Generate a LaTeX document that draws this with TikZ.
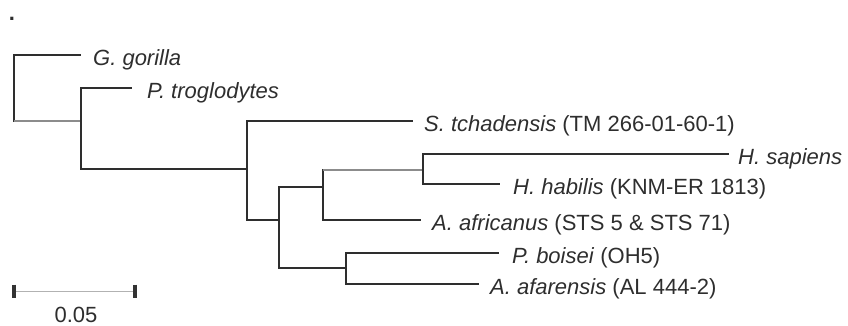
\documentclass[tikz,border=0pt]{standalone}
\usepackage{fontspec}
\setmainfont{Liberation Sans}
\begin{document}
\begin{tikzpicture}[x=1pt,y=-1pt,
  br/.style={line width=2.8pt,draw=black!82,line cap=rect},
  lightbr/.style={line width=1.4pt,draw=black!45},
  barline/.style={line width=1pt,draw=black!30},
  tick/.style={line width=3.2pt,draw=black!80},
  lab/.style={anchor=base west,inner sep=0pt,text=black!82,xshift=12pt,yshift=-10.5pt,
    font=\fontsize{22}{26}\selectfont},
  plain/.style={anchor=base,inner sep=0pt,text=black!82,font=\fontsize{22}{26}\selectfont}]
\useasboundingbox (0,0) rectangle (848,325);
% internal nodes
\coordinate (r) at (14,121);
\coordinate (n2) at (81,121);
\coordinate (n3) at (247,169);
\coordinate (n4) at (279,220);
\coordinate (n5) at (323,187);
\coordinate (n5t) at (323,170);
\coordinate (n6) at (423,170);
\coordinate (n7) at (346,268);
% tips
\coordinate (tg) at (80,55);
\coordinate (tp) at (131,88);
\coordinate (ts) at (412,121);
\coordinate (tsap) at (728,154);
\coordinate (thab) at (499,184);
\coordinate (tafr) at (420,220);
\coordinate (tboi) at (498,253);
\coordinate (tafa) at (478,284);
% branches
\draw[br] (tg) -| (r);
\draw[lightbr] (r) -- (n2);
\draw[br] (tp) -| (n2) |- (n3);
\draw[br] (ts) -| (n3) |- (n4);
\draw[br] (n5) -| (n4) |- (n7);
\draw[br] (n5t) -- (n5) |- (tafr);
\draw[lightbr] (n5t) -- (n6);
\draw[br] (tsap) -| (n6) |- (thab);
\draw[br] (tboi) -| (n7) |- (tafa);
% labels
\node[lab,xshift=1pt] (lg) at (tg) {\itshape G. gorilla};
\node[lab,xshift=4pt] (lp) at (tp) {\itshape P. troglodytes};
\node[lab] (ls) at (ts) {\textit{S. tchadensis} (TM 266-01-60-1)};
\node[lab,xshift=-2pt] (lsap) at (tsap) {\itshape H. sapiens};
\node[lab,xshift=2pt] (lhab) at (thab) {\textit{H. habilis} (KNM-ER 1813)};
\node[lab] (lafr) at (tafr) {\textit{A. africanus} (STS 5 \& STS 71)};
\node[lab,xshift=2pt] (lboi) at (tboi) {\textit{P. boisei} (OH5)};
\node[lab] (lafa) at (tafa) {\textit{A. afarensis} (AL 444-2)};
% scale bar
\coordinate (sb1) at (14,291);
\coordinate (sb2) at (135,291);
\draw[barline] (sb1) -- (sb2);
\draw[tick] ([yshift=6.5pt]sb1) -- ([yshift=-6.5pt]sb1);
\draw[tick] ([yshift=6.5pt]sb2) -- ([yshift=-6.5pt]sb2);
\node[plain] (sl) at (76,322) {0.05};
\node[plain,font=\fontsize{22}{26}\selectfont\bfseries] (dot) at (12,20) {.};
\end{tikzpicture}
\end{document}
